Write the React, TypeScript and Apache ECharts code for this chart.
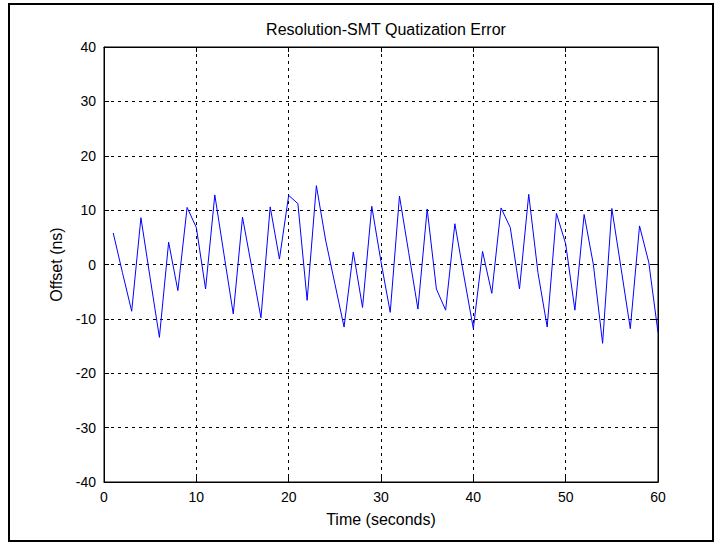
import React, { useEffect, useRef } from "react";
import * as echarts from "echarts";

const timeSeconds: number[] = [
  1, 2, 3, 4, 5, 6, 7, 8, 9, 10,
  11, 12, 13, 14, 15, 16, 17, 18, 19, 20,
  21, 22, 23, 24, 25, 26, 27, 28, 29, 30,
  31, 32, 33, 34, 35, 36, 37, 38, 39, 40,
  41, 42, 43, 44, 45, 46, 47, 48, 49, 50,
  51, 52, 53, 54, 55, 56, 57, 58, 59, 60,
];

const offsetNs: number[] = [
  5.8, -1.5, -8.6, 8.6, -2.5, -13.4, 4.1, -4.8, 10.5, 6.8,
  -4.5, 12.8, 1.8, -9.1, 8.7, -0.5, -9.8, 10.6, 1.0, 12.7,
  11.2, -6.6, 14.5, 4.5, -3.5, -11.5, 2.3, -7.9, 10.7, 0.5,
  -8.8, 12.6, 2.2, -8.2, 10.2, -4.5, -8.4, 7.5, -2.3, -11.8,
  2.4, -5.3, 10.4, 6.8, -4.5, 12.9, -1.5, -11.5, 9.4, 3.8,
  -8.4, 9.2, 0.0, -14.5, 10.3, -0.7, -11.8, 7.1, 0.4, -12.5,
];

const titleText = "Resolution-SMT Quatization Error";
const xAxisName = "Time (seconds)";
const yAxisName = "Offset (ns)";

const FONT = "'Liberation Sans', Arial, sans-serif";

export default function App() {
  const ref = useRef<HTMLDivElement>(null);

  useEffect(() => {
    if (!ref.current) return;
    const chart = echarts.init(ref.current, undefined, { renderer: "svg" });
    const data = timeSeconds.map((t, i) => [t, offsetNs[i]]);

    const gridLine = {
      show: true,
      lineStyle: { color: "#000", type: [3, 4] as any, width: 1 },
    };
    const axisLabelStyle = { color: "#000", fontSize: 14, fontFamily: FONT };
    const frameAxisLine = { show: true, onZero: false, lineStyle: { color: "#000" } };
    const tick = { show: true, inside: true, length: 5, lineStyle: { color: "#000" } };

    chart.setOption({
      animation: false,
      backgroundColor: "#fff",
      textStyle: { fontFamily: FONT },
      grid: {
        left: 104,
        right: 56,
        top: 47,
        bottom: 61,
        show: true,
        borderColor: "#000",
        borderWidth: 1,
        backgroundColor: "#fff",
      },
      title: {
        text: titleText,
        left: 381,
        textAlign: "center",
        top: 16,
        textStyle: { fontSize: 16, fontWeight: "normal", color: "#000", fontFamily: FONT },
      },
      xAxis: [
        {
          type: "value",
          min: 0,
          max: 60,
          interval: 10,
          position: "bottom",
          name: xAxisName,
          nameLocation: "middle",
          nameGap: 29,
          nameTextStyle: { color: "#000", fontSize: 16, fontFamily: FONT },
          axisLine: frameAxisLine,
          axisTick: tick,
          axisLabel: { ...axisLabelStyle, margin: 8 },
          splitLine: gridLine,
        },
        {
          type: "value",
          min: 0,
          max: 60,
          interval: 10,
          position: "top",
          axisLine: frameAxisLine,
          axisTick: tick,
          axisLabel: { show: false },
          splitLine: { show: false },
        },
      ],
      yAxis: [
        {
          type: "value",
          min: -40,
          max: 40,
          interval: 10,
          position: "left",
          name: yAxisName,
          nameLocation: "middle",
          nameGap: 30,
          nameTextStyle: { color: "#000", fontSize: 16, fontFamily: FONT },
          axisLine: frameAxisLine,
          axisTick: tick,
          axisLabel: { ...axisLabelStyle, margin: 8 },
          splitLine: gridLine,
        },
        {
          type: "value",
          min: -40,
          max: 40,
          interval: 10,
          position: "right",
          axisLine: frameAxisLine,
          axisTick: tick,
          axisLabel: { show: false },
          splitLine: { show: false },
        },
      ],
      graphic: [
        {
          type: "rect",
          shape: { x: 9, y: 4, width: 704, height: 537 },
          style: { fill: "none", stroke: "#000", lineWidth: 2 },
          silent: true,
          z: 100,
        },
      ],
      series: [
        {
          type: "line",
          data,
          xAxisIndex: 0,
          yAxisIndex: 0,
          symbol: "none",
          lineStyle: { color: "#0000ff", width: 1 },
          z: 10,
        },
      ],
    });

    return () => chart.dispose();
  }, []);

  return (
    <div
      ref={ref}
      style={{ position: "fixed", left: 0, top: 0, width: 714, height: 543 }}
    />
  );
}
